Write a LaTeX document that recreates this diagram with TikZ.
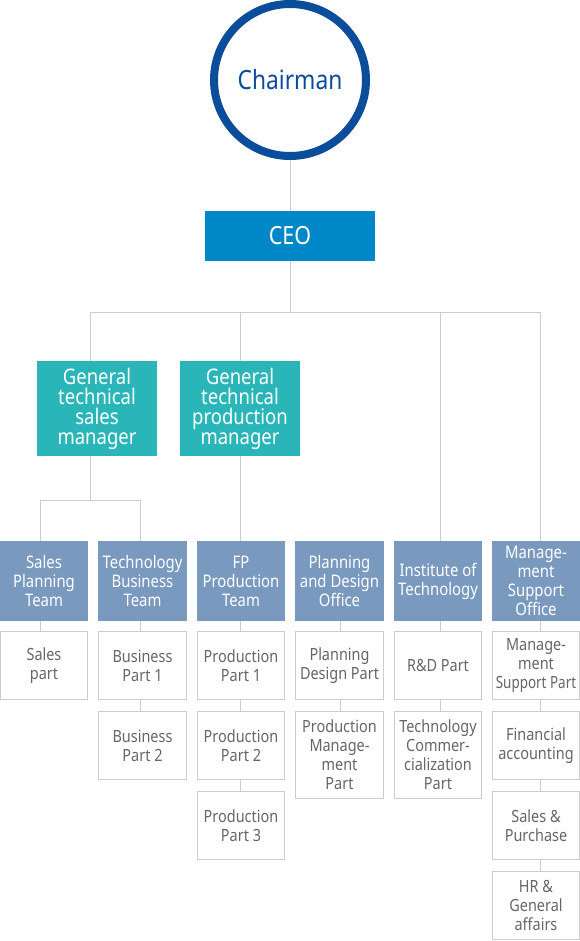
\documentclass[tikz,border=0pt]{standalone}
\usepackage{fontspec}
\setmainfont{Noto Sans}[FakeStretch=0.86]
\definecolor{chairblue}{HTML}{0B4C9B}
\definecolor{ceoblue}{HTML}{0087C7}
\definecolor{mgrteal}{HTML}{2AB6B9}
\definecolor{deptblue}{HTML}{7A99BF}
\definecolor{linegray}{HTML}{CCCCCC}
\definecolor{txtgray}{HTML}{666666}
\begin{document}
\begin{tikzpicture}[x=1pt,y=-1pt,
  chairnode/.style={circle, draw=chairblue, line width=8pt, fill=white, minimum size=152pt, inner sep=0pt, text=chairblue, font=\fontsize{26.5}{28}\selectfont},
  ceonode/.style={rectangle, fill=ceoblue, minimum width=170pt, minimum height=50pt, inner sep=0pt, text=white, font=\fontsize{25}{26}\selectfont},
  mgrnode/.style={rectangle, fill=mgrteal, minimum width=120pt, minimum height=95pt, inner sep=0pt, text=white, align=center, font=\fontsize{21.5}{20}\selectfont},
  deptnode/.style={rectangle, fill=deptblue, minimum width=88.5pt, minimum height=80pt, inner sep=0pt, text=white, align=center, font=\fontsize{17.3}{19}\selectfont},
  partnode/.style={rectangle, draw=linegray, line width=1pt, fill=white, minimum width=87.5pt, minimum height=68pt, inner sep=0pt, text=txtgray, align=center, font=\fontsize{16.8}{19}\selectfont},
  tallpart/.style={partnode, minimum height=87pt},
  link/.style={draw=linegray, line width=1pt}]
\useasboundingbox (0,0) rectangle (580,941);

% top
\node[chairnode] (chair) at (290,80) {Chairman};
\node[ceonode] (ceo) at (290,236) {CEO};
\node[mgrnode] (gtsm) at (97,408.5) {General\\technical\\sales\\manager};
\node[mgrnode] (gtpm) at (240,408.5) {General\\technical\\production\\manager};

% departments
\node[deptnode] (d1) at (44,581) {Sales\\Planning\\Team};
\node[deptnode] (d2) at (142.5,581) {Technology\\Business\\Team};
\node[deptnode] (d3) at (241,581) {FP\\Production\\Team};
\node[deptnode] (d4) at (339.5,581) {Planning\\and Design\\Office};
\node[deptnode] (d5) at (438,581) {Institute of\\Technology};
\node[deptnode] (d6) at (536,581) {Manage-\\ment\\Support\\Office};

% parts
\node[partnode] (p11) at (44,665.5) {Sales\\part};
\node[partnode] (p21) at (142.5,665.5) {Business\\Part 1};
\node[partnode] (p22) at (142.5,745.5) {Business\\Part 2};
\node[partnode] (p31) at (241,665.5) {Production\\Part 1};
\node[partnode] (p32) at (241,745.5) {Production\\Part 2};
\node[partnode] (p33) at (241,825.5) {Production\\Part 3};
\node[partnode] (p41) at (339.5,665.5) {Planning\\Design Part};
\node[tallpart] (p42) at (339.5,755) {Production\\Manage-\\ment\\Part};
\node[partnode] (p51) at (438,665.5) {R\&D Part};
\node[tallpart] (p52) at (438,755) {Technology\\Commer-\\cialization\\Part};
\node[partnode] (p61) at (536,665.5) {Manage-\\ment\\\scalebox{0.93}[1]{Support Part}};
\node[partnode] (p62) at (536,745.5) {Financial\\accounting};
\node[partnode] (p63) at (536,825.5) {Sales \&\\Purchase};
\node[partnode] (p64) at (536,905.5) {HR \&\\General\\affairs};

% line positions
\coordinate (xs) at (90,0);
\coordinate (xl1) at (40,0);
\coordinate (xl2) at (140,0);
\coordinate (xl3) at (240,0);
\coordinate (xl4) at (340,0);
\coordinate (xl5) at (440,0);
\coordinate (xl6) at (540,0);
\coordinate (busL) at (90,312);
\coordinate (busR) at (540,312);
\coordinate (sbL) at (40,500);
\coordinate (sbR) at (140,500);

% connectors top
\draw[link] (chair.south) -- (ceo.north);
\draw[link] (ceo.south) -- (ceo.south |- busL);
\draw[link] (busL |- gtsm.north) -- (busL) -- (busR) -- (busR |- d6.north);
\draw[link] (gtpm.north) -- (gtpm.north |- busL);
\draw[link] (xl5 |- busL) -- (xl5 |- d5.north);
\draw[link] (xs |- gtsm.south) -- (xs |- sbL);
\draw[link] (sbL |- d1.north) -- (sbL) -- (sbR) -- (sbR |- d2.north);
\draw[link] (gtpm.south) -- (gtpm.south |- d3.north);

% connectors to parts
\draw[link] (xl1 |- d1.south) -- (xl1 |- p11.north);
\draw[link] (xl2 |- d2.south) -- (xl2 |- p21.north);
\draw[link] (xl2 |- p21.south) -- (xl2 |- p22.north);
\draw[link] (xl3 |- d3.south) -- (xl3 |- p31.north);
\draw[link] (xl3 |- p31.south) -- (xl3 |- p32.north);
\draw[link] (xl3 |- p32.south) -- (xl3 |- p33.north);
\draw[link] (xl4 |- d4.south) -- (xl4 |- p41.north);
\draw[link] (xl4 |- p41.south) -- (xl4 |- p42.north);
\draw[link] (xl5 |- d5.south) -- (xl5 |- p51.north);
\draw[link] (xl5 |- p51.south) -- (xl5 |- p52.north);
\draw[link] (xl6 |- d6.south) -- (xl6 |- p61.north);
\draw[link] (xl6 |- p61.south) -- (xl6 |- p62.north);
\draw[link] (xl6 |- p62.south) -- (xl6 |- p63.north);
\draw[link] (xl6 |- p63.south) -- (xl6 |- p64.north);
\end{tikzpicture}
\end{document}
